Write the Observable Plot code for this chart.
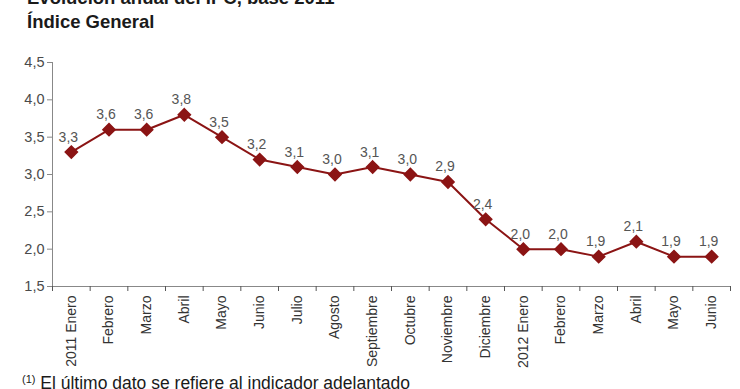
<!DOCTYPE html>
<html>
<head>
<meta charset="utf-8">
<script src="https://cdn.jsdelivr.net/npm/d3@7"></script>
<script src="https://cdn.jsdelivr.net/npm/@observablehq/plot@0.6"></script>
<style>
  html, body { margin: 0; padding: 0; background: #fff; overflow: hidden; }
  body { width: 740px; height: 389px; position: relative; font-family: "Liberation Sans", Arial, sans-serif; }
  #title { position: absolute; left: 27px; top: -14px; font-weight: bold; font-size: 18.5px; line-height: 24px; color: #1a1a1a; white-space: nowrap; }
  #chart { position: absolute; left: 0; top: 40px; }
  #caption { position: absolute; left: 22px; top: 373px; font-size: 17.5px; color: #1a1a1a; white-space: nowrap; }
  #caption sup { font-size: 11px; vertical-align: 6px; }
</style>
</head>
<body>
<div id="title">Evolución anual del IPC, base 2011<br>Índice General</div>
<div id="chart"></div>
<div id="caption"><sup>(1)</sup> El último dato se refiere al indicador adelantado</div>
<script>
const months = ["2011 Enero","Febrero","Marzo","Abril","Mayo","Junio","Julio","Agosto","Septiembre","Octubre","Noviembre","Diciembre","2012 Enero","Febrero","Marzo","Abril","Mayo","Junio"];
const values = [3.3,3.6,3.6,3.8,3.5,3.2,3.1,3.0,3.1,3.0,2.9,2.4,2.0,2.0,1.9,2.1,1.9,1.9];
const yTicks = [1.5,2.0,2.5,3.0,3.5,4.0,4.5];

const data = months.map((m, i) => ({i, month: m, value: values[i]}));
const fmt = v => v.toFixed(1).replace(".", ",");
const red = "#8b1414";

const plot = Plot.plot({
  width: 740,
  height: 335,
  marginTop: 22,
  marginBottom: 89,
  marginLeft: 52,
  marginRight: 10,
  style: {fontFamily: "'Liberation Sans', Arial, sans-serif", background: "#fff"},
  x: {type: "linear", domain: [-0.5, months.length - 0.5]},
  y: {domain: [1.5, 4.5]},
  marks: [
    Plot.ruleY([1.5], {stroke: "#888", strokeWidth: 1}),
    Plot.ruleX([-0.5], {stroke: "#888", strokeWidth: 1}),
    Plot.axisY({ticks: yTicks, tickFormat: fmt, tickSize: 5, tickPadding: 3, fontSize: 14.5, color: "#4a4a4a", stroke: "#888", label: null}),
    Plot.axisX({ticks: d3.range(-0.5, months.length), tickFormat: () => "", tickSize: 5, stroke: "#555", label: null}),
    Plot.axisX({ticks: d3.range(months.length), tickFormat: i => months[i], tickSize: 0, tickPadding: 9, tickRotate: -90, fontSize: 14, color: "#333", label: null}),
    Plot.line(data, {x: "i", y: "value", stroke: red, strokeWidth: 2}),
    Plot.dot(data, {x: "i", y: "value", symbol: "diamond2", r: 5.5, fill: red, stroke: red}),
    Plot.text(data, {x: "i", y: "value", text: d => fmt(d.value), dy: -15, dx: -3, fontSize: 14, fill: "#555"})
  ]
});
document.getElementById("chart").appendChild(plot);
</script>
</body>
</html>
